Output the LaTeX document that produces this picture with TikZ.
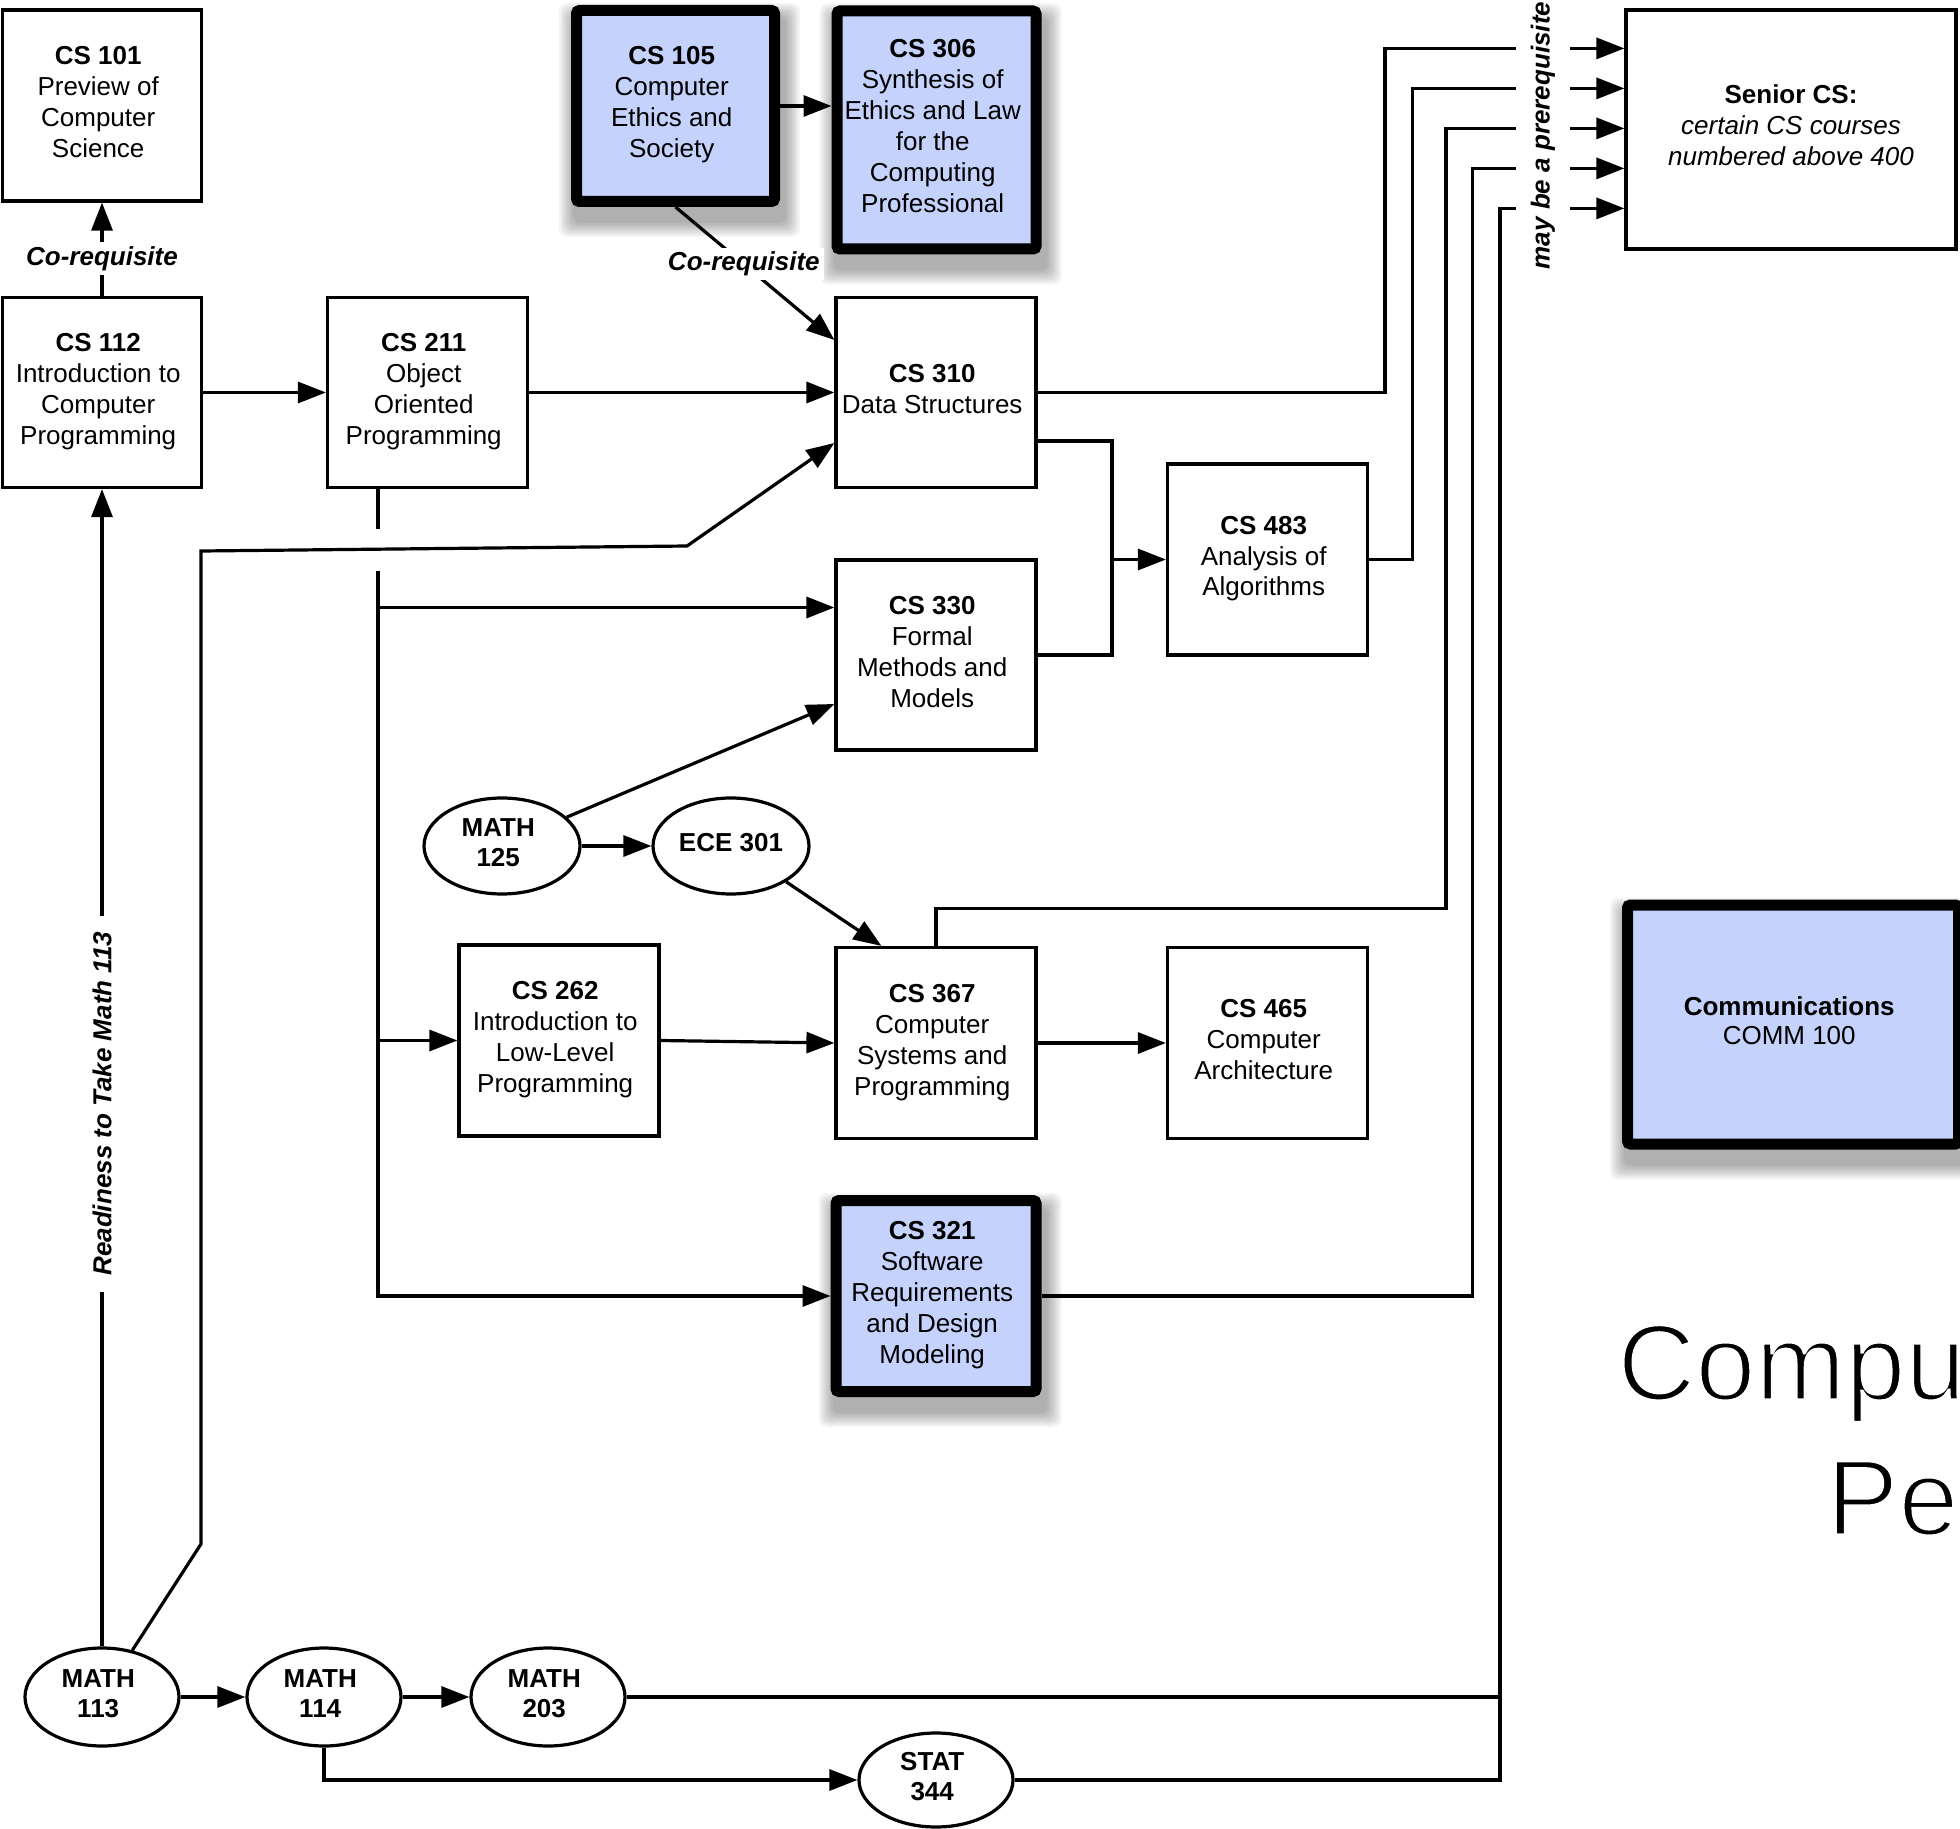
\documentclass[tikz,border=0pt]{standalone}
\usepackage{fontspec}
\setmainfont{Liberation Sans}
\usetikzlibrary{arrows.meta,shapes.geometric,calc,backgrounds}
\definecolor{cblue}{RGB}{196,210,252}
\newcommand\thintext[1]{\special{pdf:code q 2 Tr 1 1 1 RG 1.6 w}#1\special{pdf:code Q}}
% text block nudged slightly up and left, as in the reference
\newcommand\bt[1]{\begin{tabular}{@{}c@{}}#1\\[0.7pt]\end{tabular}\hspace*{3.8pt}}
\newcommand\bv[1]{\begin{tabular}{@{}c@{}}#1\\[0.7pt]\end{tabular}}
\begin{document}
\begin{tikzpicture}[x=0.5pt,y=-0.5pt,
  every node/.style={font=\fontsize{13pt}{15.5pt}\selectfont},
  box/.style={draw,line width=1.6pt,rectangle,inner sep=0pt,minimum width=100pt,minimum height=95.5pt},
  tbox/.style={draw,line width=5.5pt,fill=cblue,rounded corners=1.5pt,inner sep=0pt,minimum width=99.5pt,minimum height=95.5pt},
  course/.style={draw,line width=1.6pt,ellipse,inner sep=0pt,minimum width=77pt,minimum height=49pt,font=\fontsize{13pt}{15pt}\selectfont\bfseries},
  wire/.style={line width=1.6pt},
  arr/.style={wire,-{Triangle[length=14pt,width=10.5pt]}},
  lbl/.style={fill=white,font=\fontsize{13pt}{15.5pt}\selectfont\bfseries\itshape,inner sep=2pt},
  ttl/.style={anchor=base west,inner sep=0pt,font=\fontsize{54pt}{60pt}\selectfont},
]
\path[use as bounding box] (0,0) rectangle (1960,1829);
\clip (0,0) rectangle (1960,1829);

% plain course boxes
\node[box,minimum width=99.5pt] (cs101) at (102,105.5) {\bt{\textbf{CS 101}\\Preview of\\Computer\\Science}};
\node[box,minimum width=99.5pt,minimum height=95pt] (cs112) at (102,392.5) {\bt{\textbf{CS 112}\\Introduction to\\Computer\\Programming}};
\node[box,minimum height=95pt] (cs211) at (427.5,392.5) {\bt{\textbf{CS 211}\\Object\\Oriented\\Programming}};
\node[box,minimum height=95pt] (cs310) at (936,392.5) {\bt{\textbf{CS 310}\\Data Structures}};
\node[box,minimum height=95pt] (cs330) at (936,655) {\bt{\textbf{CS 330}\\Formal\\Methods and\\Models}};
\node[box] (cs483) at (1267.5,559.5) {\bt{\textbf{CS 483}\\Analysis of\\Algorithms}};
\node[box] (cs262) at (559,1040.5) {\bt{\textbf{CS 262}\\Introduction to\\Low-Level\\Programming}};
\node[box] (cs367) at (936,1043) {\bt{\textbf{CS 367}\\Computer\\Systems and\\Programming}};
\node[box] (cs465) at (1267.5,1043) {\bt{\textbf{CS 465}\\Computer\\Architecture}};
\node[box,minimum width=165pt,minimum height=119.5pt] (senior) at (1791,129.5) {\bv{\textbf{Senior CS:}\\\textit{certain CS courses}\\\textit{numbered above 400}}};

% highlighted boxes
\node[tbox,minimum width=99pt] (cs105) at (675.5,106) {\bt{\textbf{CS 105}\\Computer\\Ethics and\\Society}};
\node[tbox,minimum height=119pt] (cs306) at (936.5,130) {\bt{\textbf{CS 306}\\Synthesis of\\Ethics and Law\\for the\\Computing\\Professional}};
\node[tbox,minimum width=100pt] (cs321) at (936,1296) {\bt{\textbf{CS 321}\\Software\\Requirements\\and Design\\Modeling}};
\node[tbox,minimum width=165.5pt,minimum height=119.5pt,font=\fontsize{13pt}{14.5pt}\selectfont] (comm) at (1793,1024.5) {\bt{\textbf{Communications}\\COMM 100}};

% ellipses
\node[course] (m113) at (102,1697) {\bt{MATH\\113}};
\node[course] (m114) at (324,1697) {\bt{MATH\\114}};
\node[course] (m203) at (548,1697) {\bt{MATH\\203}};
\node[course,minimum height=47pt] (stat) at (936,1780) {\bt{STAT\\344}};
\node[course,minimum width=78pt,minimum height=48pt] (m125) at (502,846) {\bt{MATH\\125}};
\node[course,minimum width=78pt,minimum height=48pt] (ece) at (731,846) {\bv{ECE 301}};

% title (cut by the right edge)
\node[ttl] (t1) at (1617,1400) {\thintext{Compu}};
\node[ttl] (t2) at (1826,1535) {\thintext{Pe}};

% helper coordinates
\coordinate (s1) at ($(senior.north west)+(0,40)$);
\coordinate (s2) at ($(senior.north west)+(0,80)$);
\coordinate (s3) at ($(senior.north west)+(0,120)$);
\coordinate (s4) at ($(senior.north west)+(0,160)$);
\coordinate (s5) at ($(senior.north west)+(0,200)$);
\coordinate (bx1) at (1385,0);
\coordinate (bx2) at (1412.5,0);
\coordinate (bx3) at (1446,0);
\coordinate (bx4) at (1472.5,0);
\coordinate (bus5) at (1500,1697);
\coordinate (j1) at (378,529);
\coordinate (j2) at (378,571);
\coordinate (t330) at ($(cs330.west)+(0,-47.5)$);
\coordinate (t310a) at ($(cs310.west)+(0,-52.5)$);
\coordinate (t310c) at ($(cs310.west)+(0,50.5)$);
\coordinate (t310b) at ($(cs310.east)+(0,48.5)$);
\coordinate (mx) at (1112,0);
\coordinate (k367) at ($(cs367.north)+(0,-37.5)$);
\coordinate (b1) at (201,1544);
\coordinate (b2) at (201,551);
\coordinate (b3) at (687,546);
\coordinate (t330b) at ($(cs330.west)+(0,49)$);
\coordinate (t367) at ($(cs367.north west)+(47,0)$);

% connectors
\draw[arr] (cs112.north) -- node[lbl,pos=0.4]{Co-requisite} (cs101.south);
\draw[arr] (cs112) -- (cs211);
\draw[arr] (cs211) -- (cs310);
\draw[arr] (cs105.east) -- (cs105.east -| cs306.west);
\draw[arr] (cs105.south) -- node[lbl,pos=0.43]{Co-requisite} (t310a);
\draw[arr] (m113.north) -- node[lbl,rotate=90,pos=0.469,inner xsep=8pt,inner ysep=2pt]{Readiness to Take Math 113} (cs112.south);
\draw[arr] (m113.57) -- (b1) -- (b2) -- (b3) -- (t310c);
\draw[arr] (m113) -- (m114);
\draw[arr] (m114) -- (m203);
\draw[arr] (m114.south) |- (stat.west);
\draw[wire] (j1 |- cs211.south) -- (j1);
\draw[arr] (j2) |- (cs321.west);
\draw[arr] (j2 |- t330) -- (t330);
\draw[arr] (j2 |- cs262.west) -- (cs262.west);
\draw[wire] (t310b) -| (mx |- cs330.east) -- (cs330.east);
\draw[arr] (mx |- cs483.west) -- (cs483.west);
\draw[arr] (m125.24) -- (t330b);
\draw[arr] (m125) -- (ece);
\draw[arr] (ece.-33) -- (t367);
\draw[arr] (cs262.east) -- (cs367.west);
\draw[arr] (cs367) -- (cs465);

% wires to Senior CS
\draw[arr] (cs310.east) -| (bx1 |- s1) -- (s1);
\draw[arr] (cs483.east) -| (bx2 |- s2) -- (s2);
\draw[arr] (cs367.north) -- (k367) -| (bx3 |- s3) -- (s3);
\draw[arr] (cs321.east) -| (bx4 |- s4) -- (s4);
\draw[arr] (m203.east) -- (bus5) |- (s5);
\draw[wire] (stat.east) -| (bus5);
\node[lbl,rotate=90,inner xsep=2pt,inner ysep=7.5pt] (maybe) at (1543,135.5) {may be a prerequisite};

% background and soft shadows
\begin{scope}[on background layer]
  \fill[white] (0,0) rectangle (1960,1829);
  \foreach \n in {cs105,cs306,cs321,comm}{
    \foreach \s in {1,...,8}{
      \fill[black,opacity=0.045,rounded corners=4pt] ([shift={(4-2*\s,14-2*\s)}]\n.north west) rectangle ([shift={(4+2*\s,14+2*\s)}]\n.south east);
    }
  }
\end{scope}
\end{tikzpicture}
\end{document}
